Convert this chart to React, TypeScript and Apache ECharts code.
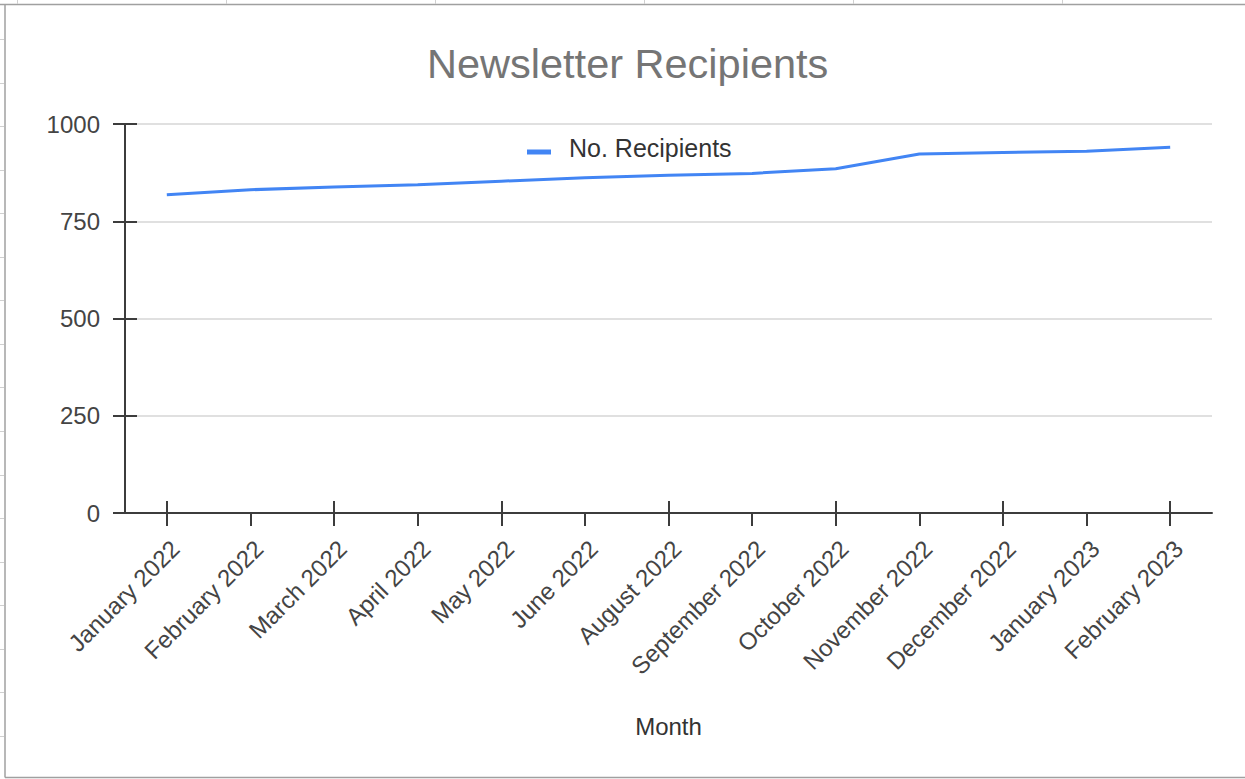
import React, { useEffect, useRef } from "react";
import * as echarts from "echarts";

const titleText = "Newsletter Recipients";
const seriesName = "No. Recipients";
const xAxisName = "Month";
const months = [
  "January 2022",
  "February 2022",
  "March 2022",
  "April 2022",
  "May 2022",
  "June 2022",
  "August 2022",
  "September 2022",
  "October 2022",
  "November 2022",
  "December 2022",
  "January 2023",
  "February 2023",
];
const recipients = [818, 831, 838, 844, 853, 862, 868, 873, 885, 923, 927, 930, 940];
const yMin = 0;
const yMax = 1000;
const yStep = 250;

const FONT = "'Liberation Sans', Arial, sans-serif";
const AXIS_COLOR = "#3c3c3c";

function frameGraphics() {
  const els: any[] = [];
  const frameStyle = { stroke: "#a0a0a0", lineWidth: 1.5 };
  els.push({ type: "line", shape: { x1: 0, y1: 4.5, x2: 1245, y2: 4.5 }, style: frameStyle, silent: true });
  els.push({ type: "line", shape: { x1: 5, y1: 4.5, x2: 5, y2: 777.5 }, style: frameStyle, silent: true });
  els.push({ type: "line", shape: { x1: 5, y1: 777.5, x2: 1245, y2: 777.5 }, style: frameStyle, silent: true });
  const colXs = [17, 226, 435, 644, 853, 1062];
  colXs.forEach((x) =>
    els.push({ type: "line", shape: { x1: x + 0.5, y1: 0, x2: x + 0.5, y2: 4 }, style: { stroke: "#d0d0d0", lineWidth: 1 }, silent: true })
  );
  for (let k = 0; k < 18; k++) {
    const y = Math.round(39 + 43.55 * k) + 0.5;
    if (y > 776) break;
    els.push({ type: "line", shape: { x1: 0, y1: y, x2: 4, y2: y }, style: { stroke: "#d0d0d0", lineWidth: 1 }, silent: true });
  }
  return els;
}

export default function App() {
  const ref = useRef<HTMLDivElement>(null);
  useEffect(() => {
    if (!ref.current) return;
    const chart = echarts.init(ref.current, undefined, { renderer: "svg" });
    chart.setOption({
      animation: false,
      backgroundColor: "#ffffff",
      textStyle: { fontFamily: FONT },
      title: {
        text: titleText,
        left: 427,
        top: 42,
        padding: 0,
        textStyle: { fontFamily: FONT, fontSize: 41.5, fontWeight: "normal", color: "#757575" },
      },
      legend: {
        data: [seriesName],
        left: 522,
        top: 130,
        icon: "path://M0,0 M0,9 L24,9 L24,14 L0,14 Z",
        itemWidth: 24,
        itemHeight: 14,
        textStyle: { fontFamily: FONT, fontSize: 25, color: "#333333", padding: [0, 0, 0, 13] },
      },
      graphic: frameGraphics(),
      grid: { left: 125, right: 33, top: 124, bottom: 266, containLabel: false },
      xAxis: [
        {
          type: "category",
          position: "bottom",
          data: months,
          boundaryGap: true,
          name: xAxisName,
          nameLocation: "middle",
          nameGap: 201,
          nameTextStyle: { fontFamily: FONT, fontSize: 24, color: "#333333" },
          axisLine: { show: true, lineStyle: { color: AXIS_COLOR, width: 2 } },
          axisTick: { show: true, alignWithLabel: true, length: 13, lineStyle: { color: AXIS_COLOR, width: 2 } },
          axisLabel: {
            interval: 0,
            rotate: 45,
            margin: 23,
            verticalAlign: "top",
            fontFamily: FONT,
            fontSize: 24,
            color: "#444444",
          },
          splitLine: { show: false },
        },
        {
          type: "category",
          position: "bottom",
          data: months,
          boundaryGap: true,
          axisLine: { show: false },
          axisTick: { show: true, inside: true, alignWithLabel: true, length: 12, lineStyle: { color: AXIS_COLOR, width: 2 } },
          axisLabel: { show: false },
          splitLine: { show: false },
        },
      ],
      yAxis: [
        {
          type: "value",
          position: "left",
          min: yMin,
          max: yMax,
          interval: yStep,
          axisLine: { show: true, lineStyle: { color: AXIS_COLOR, width: 2 } },
          axisTick: { show: true, length: 12, lineStyle: { color: AXIS_COLOR, width: 2 } },
          axisLabel: {
            margin: 25,
            fontFamily: FONT,
            fontSize: 24,
            color: "#444444",
            formatter: (v: number) => String(v),
          },
          splitLine: { show: true, lineStyle: { color: "#e0e0e0", width: 2 } },
        },
        {
          type: "value",
          position: "left",
          min: yMin,
          max: yMax,
          interval: yStep,
          axisLine: { show: false },
          axisTick: { show: true, inside: true, length: 12, lineStyle: { color: AXIS_COLOR, width: 2 } },
          axisLabel: { show: false },
          splitLine: { show: false },
        },
      ],
      series: [
        {
          name: seriesName,
          type: "line",
          xAxisIndex: 0,
          yAxisIndex: 0,
          data: recipients,
          symbol: "none",
          showSymbol: false,
          smooth: false,
          lineStyle: { color: "#4285F4", width: 3 },
          itemStyle: { color: "#4285F4" },
          z: 5,
        },
      ],
    });
    return () => chart.dispose();
  }, []);
  return (
    <div
      ref={ref}
      style={{ position: "fixed", left: 0, top: 0, width: 1245, height: 779, background: "#ffffff" }}
    />
  );
}
